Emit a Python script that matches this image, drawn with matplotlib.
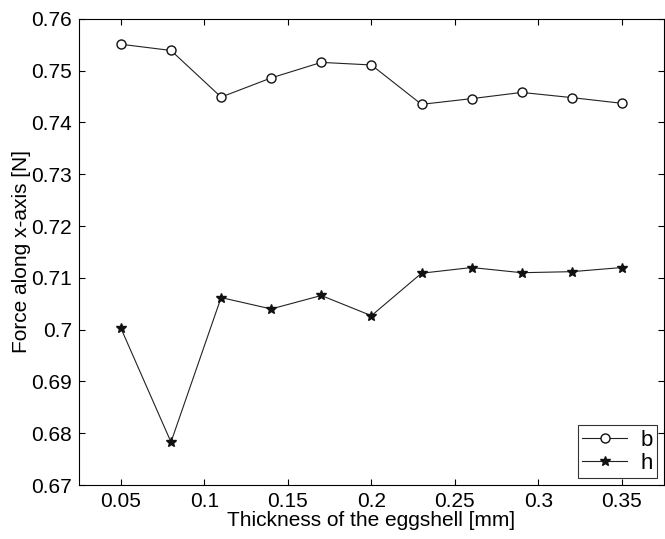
import matplotlib
matplotlib.use("Agg")
import matplotlib.pyplot as plt

plt.rcParams['font.family'] = ['Liberation Sans', 'DejaVu Sans']

thickness = [0.05, 0.08, 0.11, 0.14, 0.17, 0.20, 0.23, 0.26, 0.29, 0.32, 0.35]
force_b = [0.7551, 0.7539, 0.7449, 0.7486, 0.7516, 0.7511, 0.7435, 0.7446, 0.7458, 0.7448, 0.7437]
force_h = [0.7003, 0.6783, 0.7062, 0.7040, 0.7066, 0.7027, 0.7109, 0.7120, 0.7110, 0.7112, 0.7120]

xticks = [0.05, 0.1, 0.15, 0.2, 0.25, 0.3, 0.35]
xticklabels = ["0.05", "0.1", "0.15", "0.2", "0.25", "0.3", "0.35"]
yticks = [0.67, 0.68, 0.69, 0.7, 0.71, 0.72, 0.73, 0.74, 0.75, 0.76]
yticklabels = ["0.67", "0.68", "0.69", "0.7", "0.71", "0.72", "0.73", "0.74", "0.75", "0.76"]

fig = plt.figure(figsize=(6.65, 5.39), dpi=100)
ax = fig.add_axes([0.119, 0.100, 0.879, 0.865])

ax.plot(thickness, force_b, color="#222222", lw=0.8, marker="o", ms=6.5,
        mfc="white", mec="#111111", mew=1.0, label="b")
ax.plot(thickness, force_h, color="#222222", lw=0.8, marker="*", ms=7,
        mfc="#111111", mec="#111111", label="h")

ax.set_xlim(0.025, 0.375)
ax.set_ylim(0.67, 0.76)
ax.set_xticks(xticks)
ax.set_xticklabels(xticklabels)
ax.set_yticks(yticks)
ax.set_yticklabels(yticklabels)
ax.tick_params(direction="in", top=True, right=True, length=4, labelsize=15, pad=5)
for s in ax.spines.values():
    s.set_linewidth(0.8)

ax.set_xlabel("Thickness of the eggshell [mm]", fontsize=15, labelpad=0)
ax.set_ylabel("Force along x-axis [N]", fontsize=15, labelpad=0)

leg = ax.legend(loc="lower right", fontsize=16, frameon=True, fancybox=False,
                edgecolor="black", borderaxespad=0.3, handlelength=2.0,
                borderpad=0.2, labelspacing=0.1, handletextpad=0.6)
leg.get_frame().set_linewidth(0.8)

fig.savefig("out.png", dpi=100)
